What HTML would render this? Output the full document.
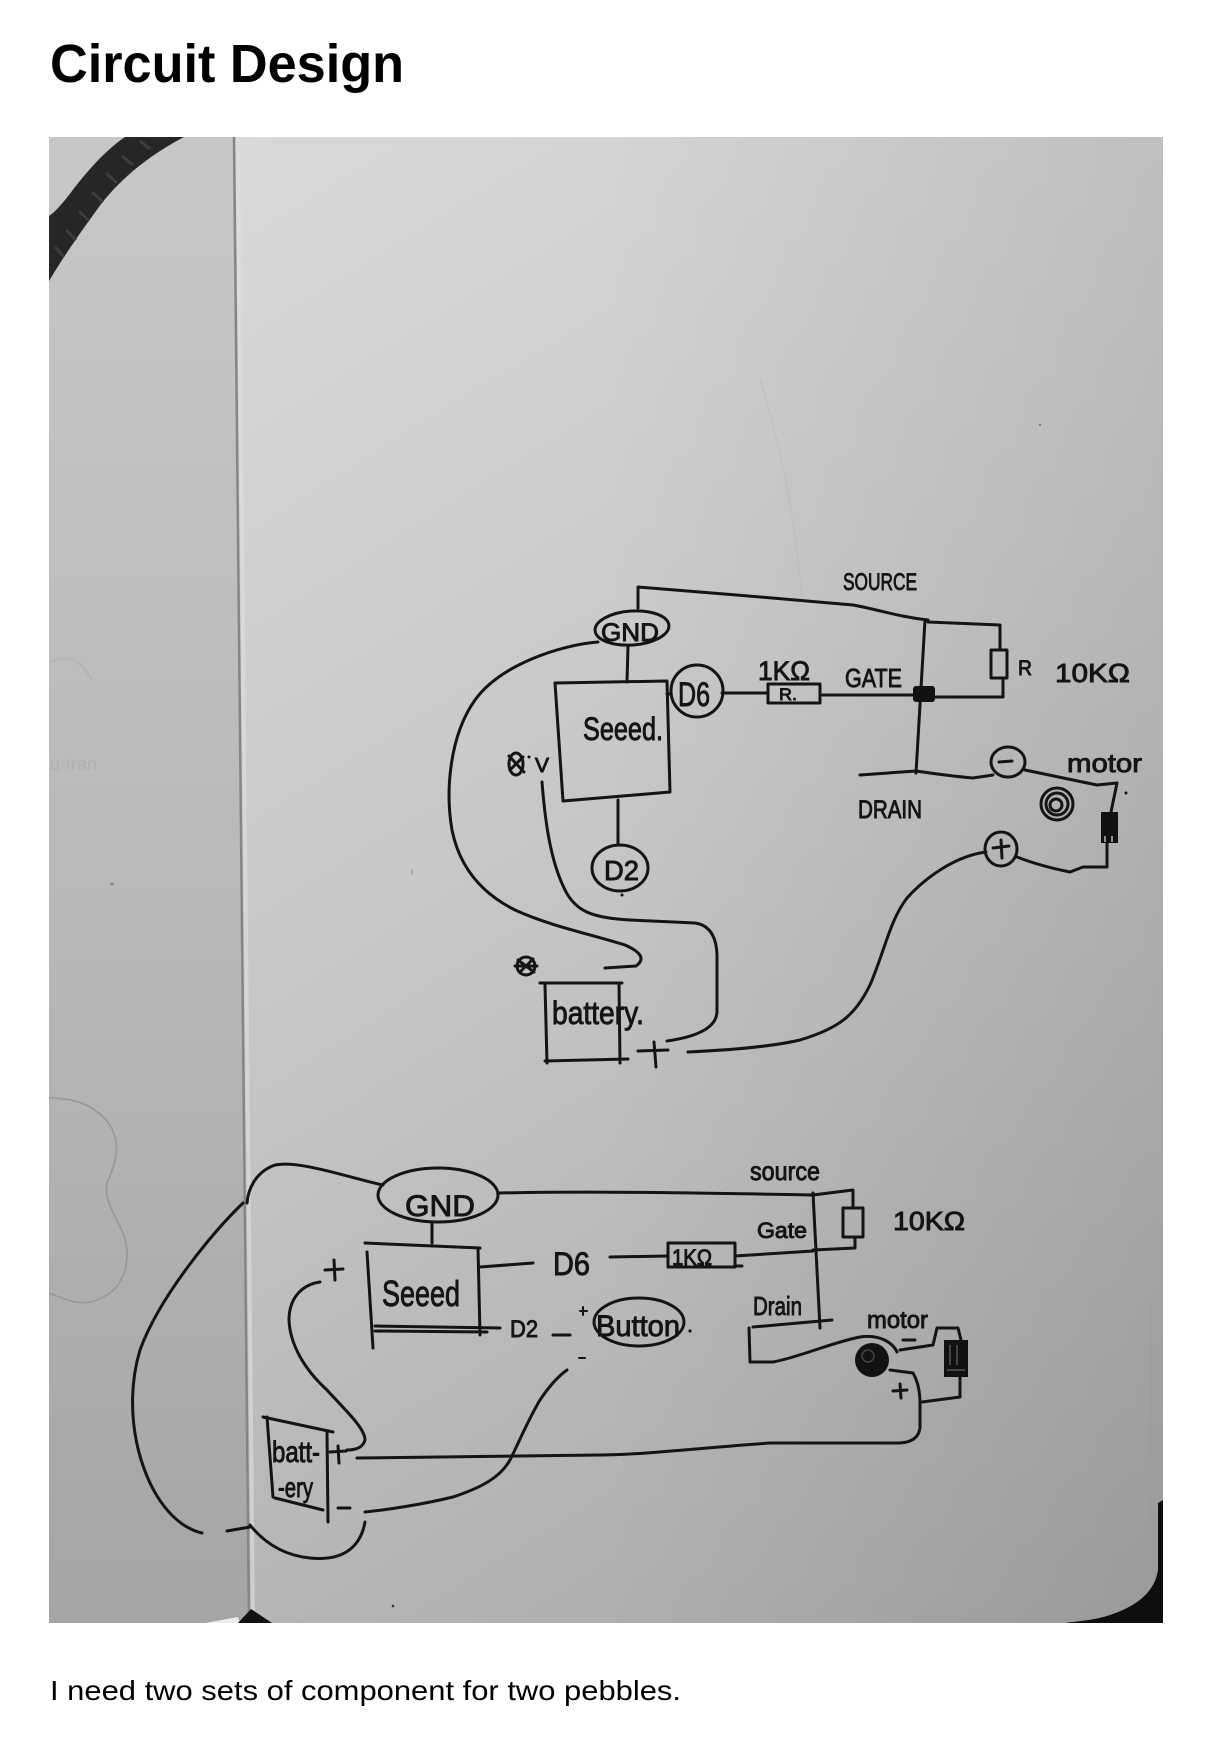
<!DOCTYPE html>
<html>
<head>
<meta charset="utf-8">
<style>
html,body{margin:0;padding:0;background:#fff;}
body{width:1221px;height:1739px;overflow:hidden;position:relative;}
svg{position:absolute;left:0;top:0;}
.h{font-family:"Liberation Sans",Arial,sans-serif;fill:#141414;stroke:#141414;stroke-width:0.9;}
</style>
</head>
<body>
<svg width="1221" height="1739" viewBox="0 0 1221 1739" xmlns="http://www.w3.org/2000/svg">
<defs>
<clipPath id="ph"><rect x="49" y="137" width="1114" height="1486"/></clipPath>
<linearGradient id="rp" gradientUnits="userSpaceOnUse" x1="240" y1="137" x2="1163" y2="1623">
<stop offset="0" stop-color="#d9d9d9"/><stop offset=".45" stop-color="#c6c6c6"/><stop offset="1" stop-color="#a5a5a5"/>
</linearGradient>
<linearGradient id="lp" x1="0" y1="0" x2="0" y2="1">
<stop offset="0" stop-color="#c7c7c7"/><stop offset=".5" stop-color="#b9b9b9"/><stop offset="1" stop-color="#a5a5a5"/>
</linearGradient>
<linearGradient id="rs" gradientUnits="userSpaceOnUse" x1="600" y1="0" x2="1163" y2="0">
<stop offset="0" stop-color="#000" stop-opacity="0"/><stop offset="1" stop-color="#000" stop-opacity=".07"/>
</linearGradient>
</defs>

<!-- Title -->
<text x="50" y="82" font-family="'Liberation Sans',Arial,sans-serif" font-weight="bold" font-size="54" fill="#000" textLength="354" lengthAdjust="spacingAndGlyphs">Circuit Design</text>

<!-- Photo -->
<g clip-path="url(#ph)">
<polygon points="49,137 235,137 250,1623 49,1623" fill="url(#lp)"/>
<polygon points="235,137 1163,137 1163,1623 250,1623" fill="url(#rp)"/>
<rect x="49" y="137" width="1114" height="1486" fill="url(#rs)"/>
<!-- spine -->
<path d="M238,137 L253,1623" stroke="#e0e0e0" stroke-width="4" opacity=".6" fill="none"/>
<path d="M234,137 L249,1623" stroke="#858585" stroke-width="2.5" fill="none"/>
<!-- faint crease -->
<path d="M760,380 Q792,480 802,600" stroke="#b5b5b5" stroke-width="1" fill="none" opacity=".6"/>
<!-- rope -->
<path d="M125,137 C103,152 84,175 69,195 C61,205 55,212 49,216 L49,281 C62,259 80,233 96,211 C112,188 140,160 184,137 Z" fill="#262626"/>
<path d="M140,141 L150,149 M122,156 L133,165 M106,173 L117,183 M92,192 L103,202 M79,211 L89,221 M66,230 L76,240 M55,247 L64,257" stroke="#3d3d3d" stroke-width="3" fill="none"/>
<!-- pebble outline -->
<path d="M49,1098 C75,1098 95,1105 110,1125 C122,1145 115,1165 107,1183 C102,1205 125,1225 127,1250 C128,1275 118,1295 90,1302 C75,1305 60,1297 49,1293" stroke="#979797" stroke-width="1.6" fill="none"/>
<!-- faint ghost marks left page -->
<text x="50" y="770" font-family="'Liberation Sans',sans-serif" font-size="18" fill="#a9a9a9" opacity=".55">u·tran</text>
<path d="M52,662 Q75,650 92,680" stroke="#aaaaaa" stroke-width="2" fill="none" opacity=".5"/>
<circle cx="112" cy="884" r="1.5" fill="#888"/>
<path d="M413,870 q-4,2 0,4" stroke="#999" stroke-width="1" fill="none"/>
<!-- bottom corners -->
<polygon points="205,1623 238,1617 240,1623" fill="#ececec"/>
<polygon points="238,1623 251,1609 272,1623" fill="#111"/>
<path d="M1163,1500 L1158,1503 L1158,1570 C1155,1590 1140,1605 1110,1615 C1095,1620 1080,1621 1065,1623 L1163,1623 Z" fill="#0e0e0e"/>
<path d="M1152,1300 L1150,1580" stroke="#9b9b9b" stroke-width="1" fill="none"/>
<circle cx="393" cy="1606" r="1.3" fill="#333"/>
<circle cx="1040" cy="425" r="1" fill="#666"/>

<!-- ============ TOP CIRCUIT ============ -->
<g fill="none" stroke="#141414" stroke-width="3" stroke-linecap="round" stroke-linejoin="round">
<path d="M638,608 L638,587 C700,592 800,600 853,605 C880,610 900,617 928,620"/>
<path d="M928,622 L1000,625 L1000,650"/>
<rect x="991" y="650" width="16" height="28"/>
<path d="M1003,678 L1003,697 L935,697"/>
<path d="M925,620 L916,773"/>
<path d="M823,695 L915,695"/>
<path d="M860,775 L916,771 Q950,776 973,778 L993,775"/>
<ellipse cx="1008" cy="762" rx="17" ry="15"/>
<path d="M999,762 L1012,761"/>
<path d="M1025,770 L1097,785 L1117,783 L1111,812"/>
<path d="M1107,843 L1107,867 L1083,867 L1070,872 Q1040,866 1017,857"/>
<ellipse cx="1001" cy="849" rx="16" ry="17"/>
<path d="M993,848 L1009,846 M1001,840 L1002,858"/>
<path d="M986,852 C955,856 925,878 907,898 C890,920 885,950 870,985 C855,1015 840,1028 800,1040 C770,1047 730,1050 688,1052"/>
<circle cx="1057" cy="804" r="16"/>
<circle cx="1057" cy="804" r="11"/>
<circle cx="1056" cy="805" r="6"/>
<!-- 1k resistor and D6 -->
<path d="M722,693 L768,693"/>
<rect x="768" y="684" width="52" height="19"/>
<path d="M823,695 L830,695"/>
<circle cx="697" cy="691" r="26"/>
<path d="M667,694 L671,694"/>
<!-- seeed box -->
<path d="M555,683 L667,681 L670,792 L563,801 Z"/>
<ellipse cx="632" cy="628" rx="37" ry="17" transform="rotate(-4 632 628)"/>
<path d="M628,646 L627,682"/>
<path d="M618,800 L618,845"/>
<ellipse cx="620" cy="868" rx="28" ry="23"/>
<!-- V wire -->
<path d="M542,782 C545,820 550,860 565,890 C575,910 590,918 630,920 L695,923 Q716,926 717,955 L717,1012 Q716,1034 667,1041"/>
<!-- big gnd wire -->
<path d="M598,642 C560,645 500,665 475,700 C450,735 445,790 452,830 C460,870 485,895 515,910 C550,926 590,934 625,945 Q650,956 636,966 L605,968"/>
<!-- battery -->
<path d="M540,983 L622,983"/>
<path d="M545,985 L547,1063"/>
<path d="M619,983 L620,1063"/>
<path d="M545,1061 L628,1059"/>
<path d="M638,1051 L668,1050 M654,1042 L656,1067"/>
<!-- scribbles -->
<circle cx="526" cy="966" r="9"/>
<path d="M518,960 L534,972 M520,972 L533,959 M515,966 L537,966"/>
<ellipse cx="516" cy="764" rx="7" ry="11"/>
<path d="M509,756 L524,772 M510,770 L523,757"/>
</g>
<circle cx="529" cy="757" r="1.5" fill="#141414"/>
<circle cx="622" cy="895" r="1.5" fill="#141414"/>
<circle cx="1126" cy="793" r="1.5" fill="#141414"/>
<rect x="913" y="686" width="22" height="16" rx="3" fill="#111"/>
<rect x="1101" y="812" width="17" height="31" fill="#111"/>
<path d="M1105,836 L1105,842 M1112,836 L1112,842" stroke="#bbb" stroke-width="1.5"/>

<text class="h" x="843" y="590" font-size="24" textLength="74" lengthAdjust="spacingAndGlyphs">SOURCE</text>
<text class="h" x="845" y="687" font-size="26" textLength="57" lengthAdjust="spacingAndGlyphs">GATE</text>
<text class="h" x="858" y="818" font-size="25" textLength="64" lengthAdjust="spacingAndGlyphs">DRAIN</text>
<text class="h" x="758" y="680" font-size="27" textLength="52" lengthAdjust="spacingAndGlyphs">1KΩ</text>
<text class="h" x="779" y="700" font-size="17" textLength="18" lengthAdjust="spacingAndGlyphs">R.</text>
<text class="h" x="678" y="706" font-size="34" textLength="32" lengthAdjust="spacingAndGlyphs">D6</text>
<text class="h" x="601" y="641" font-size="25" textLength="58" lengthAdjust="spacingAndGlyphs">GND</text>
<text class="h" x="583" y="740" font-size="32" textLength="80" lengthAdjust="spacingAndGlyphs">Seeed.</text>
<text class="h" x="604" y="880" font-size="28" textLength="35" lengthAdjust="spacingAndGlyphs">D2</text>
<text class="h" x="552" y="1024" font-size="32" textLength="92" lengthAdjust="spacingAndGlyphs">battery.</text>
<text class="h" x="1067" y="772" font-size="26" textLength="75" lengthAdjust="spacingAndGlyphs">motor</text>
<text class="h" x="1018" y="675" font-size="21" textLength="14" lengthAdjust="spacingAndGlyphs">R</text>
<text class="h" x="1055" y="682" font-size="26" textLength="75" lengthAdjust="spacingAndGlyphs">10KΩ</text>
<text class="h" x="535" y="772" font-size="20" textLength="14" lengthAdjust="spacingAndGlyphs">V</text>

<!-- ============ BOTTOM CIRCUIT ============ -->
<g fill="none" stroke="#141414" stroke-width="3" stroke-linecap="round" stroke-linejoin="round">
<ellipse cx="438" cy="1195" rx="60" ry="27"/>
<path d="M383,1185 C350,1178 300,1160 275,1165 C255,1172 248,1190 247,1203"/>
<path d="M498,1193 C600,1191 700,1193 813,1195"/>
<path d="M813,1195 L853,1190 L853,1208"/>
<rect x="843" y="1208" width="20" height="29"/>
<path d="M855,1237 L855,1248 L813,1250"/>
<path d="M813,1193 L820,1328"/>
<rect x="668" y="1243" width="67" height="24"/>
<path d="M610,1257 L668,1256"/>
<path d="M735,1256 L813,1251"/>
<path d="M735,1266 L742,1266"/>
<path d="M753,1327 L832,1320"/>
<path d="M749,1328 L750,1362 L773,1362 C800,1357 830,1343 860,1337 C880,1334 893,1343 897,1352"/>
<path d="M903,1340 L915,1340"/>
<path d="M900,1350 L933,1345 L937,1328 L958,1328 L961,1340"/>
<path d="M960,1377 L960,1397 L922,1402"/>
<path d="M890,1370 L913,1373 Q920,1385 920,1403 L920,1428 Q918,1442 900,1443 L770,1443 C700,1448 640,1455 600,1455 L357,1458"/>
<path d="M893,1391 L907,1390 M900,1384 L901,1398"/>
<!-- seeed -->
<path d="M365,1243 L480,1248"/>
<path d="M367,1252 L373,1348"/>
<path d="M478,1248 L480,1335"/>
<path d="M375,1326 L500,1328"/>
<path d="M375,1331 L487,1332"/>
<path d="M432,1222 L432,1243"/>
<path d="M480,1267 L533,1263"/>
<path d="M553,1335 L570,1335"/>
<path d="M580,1311 L587,1311 M583,1307 L583,1315" stroke-width="2"/>
<path d="M579,1358 L585,1358" stroke-width="2"/>
<ellipse cx="639" cy="1322" rx="45" ry="24"/>
<!-- + and wire -->
<path d="M325,1270 L343,1269 M334,1260 L335,1280"/>
<path d="M320,1282 C300,1285 289,1300 289,1320 C290,1345 305,1370 327,1390 C345,1410 365,1428 365,1440 C363,1448 355,1450 347,1450"/>
<!-- battery -->
<path d="M263,1417 L333,1432"/>
<path d="M267,1417 L273,1497"/>
<path d="M327,1433 L328,1522"/>
<path d="M275,1498 L323,1510"/>
<path d="M330,1452 L346,1451 M338,1446 L339,1463"/>
<path d="M338,1508 L350,1508"/>
<path d="M365,1512 C385,1510 420,1505 453,1497 C480,1488 500,1478 510,1460 C520,1440 528,1420 540,1400 C550,1385 560,1375 567,1370"/>
<path d="M243,1203 C215,1230 160,1295 140,1350 C128,1390 130,1440 150,1483 C162,1508 180,1528 202,1533"/>
<path d="M227,1531 L250,1527"/>
<path d="M250,1525 C262,1540 280,1555 310,1558 C340,1561 360,1550 365,1522"/>
</g>
<circle cx="872" cy="1360" r="17" fill="#121212"/>
<circle cx="868" cy="1356" r="6" fill="none" stroke="#444" stroke-width="1.5"/>
<rect x="944" y="1340" width="24" height="37" fill="#111"/>
<path d="M950,1345 L950,1365 M957,1345 L957,1365 M947,1370 L965,1370" stroke="#555" stroke-width="1.5"/>
<circle cx="690" cy="1331" r="1.6" fill="#141414"/>

<text class="h" x="405" y="1216" font-size="30" textLength="70" lengthAdjust="spacingAndGlyphs">GND</text>
<text class="h" x="382" y="1306" font-size="36" textLength="78" lengthAdjust="spacingAndGlyphs">Seeed</text>
<text class="h" x="553" y="1275" font-size="32" textLength="37" lengthAdjust="spacingAndGlyphs">D6</text>
<text class="h" x="510" y="1337" font-size="24" textLength="28" lengthAdjust="spacingAndGlyphs">D2</text>
<text class="h" x="596" y="1336" font-size="30" textLength="84" lengthAdjust="spacingAndGlyphs">Button</text>
<text class="h" x="750" y="1180" font-size="26" textLength="70" lengthAdjust="spacingAndGlyphs">source</text>
<text class="h" x="757" y="1238" font-size="22" textLength="50" lengthAdjust="spacingAndGlyphs">Gate</text>
<text class="h" x="893" y="1230" font-size="26" textLength="72" lengthAdjust="spacingAndGlyphs">10KΩ</text>
<text class="h" x="753" y="1315" font-size="26" textLength="49" lengthAdjust="spacingAndGlyphs">Drain</text>
<text class="h" x="672" y="1265" font-size="22" textLength="40" lengthAdjust="spacingAndGlyphs">1KΩ</text>
<text class="h" x="867" y="1328" font-size="24" textLength="61" lengthAdjust="spacingAndGlyphs">motor</text>
<text class="h" x="272" y="1462" font-size="30" textLength="48" lengthAdjust="spacingAndGlyphs">batt-</text>
<text class="h" x="278" y="1497" font-size="28" textLength="35" lengthAdjust="spacingAndGlyphs">-ery</text>
</g>

<!-- Caption -->
<text x="50" y="1700" font-family="'Liberation Sans',Arial,sans-serif" font-size="28" fill="#000" textLength="631" lengthAdjust="spacingAndGlyphs">I need two sets of component for two pebbles.</text>
</svg>
</body>
</html>
